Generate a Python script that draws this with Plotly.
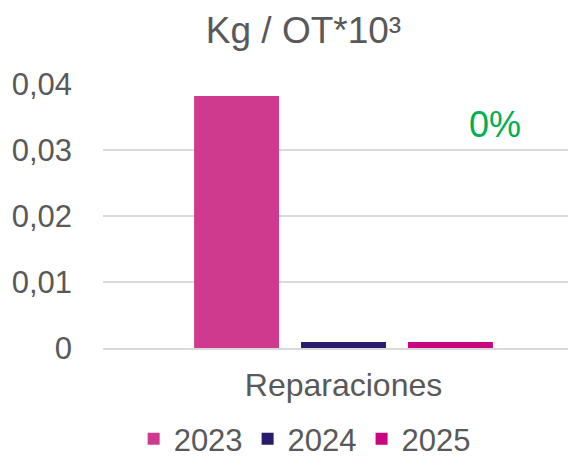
import plotly.graph_objects as go

categories = ["Reparaciones"]
years = ["2023", "2024", "2025"]
values_2023 = [0.0382]
values_2024 = [0.0009]
values_2025 = [0.0009]
colors = ["#CF3A8F", "#2A1C6D", "#C9067F"]
y_tickvals = [0, 0.01, 0.02, 0.03, 0.04]
y_ticktext = ["0", "0,01", "0,02", "0,03", "0,04"]
annotation_text = "0%"

fig = go.Figure()
for name, vals, col in zip(years, [values_2023, values_2024, values_2025], colors):
    fig.add_trace(go.Bar(x=categories, y=vals, name=name, marker=dict(color=col, line=dict(width=0))))

font_family = "Liberation Sans, Arial, sans-serif"
fig.update_layout(
    width=576, height=459,
    paper_bgcolor="white", plot_bgcolor="white",
    margin=dict(l=95, r=0, t=76, b=119, autoexpand=False),
    barmode="group", bargap=0.333, bargroupgap=0.206,
    font=dict(family=font_family, color="#595959"),
    title=dict(text="Kg / OT*10³", x=0.513, xanchor="center", y=1 - 22 / 459, yanchor="middle",
               font=dict(size=37, color="#595959", family=font_family)),
    showlegend=True,
    legend=dict(orientation="h", x=0.515, xanchor="center", xref="container", yref="container",
                y=1 - 431 / 459, yanchor="middle",
                font=dict(size=31, color="#595959"), itemwidth=30, traceorder="normal"),
    yaxis=dict(range=[0, 0.04], tickvals=y_tickvals, ticktext=y_ticktext, showgrid=True,
               gridcolor="#D9D9D9", gridwidth=1.5, zeroline=False, showline=False, automargin=False,
               tickfont=dict(size=31, color="#595959"), ticklabelstandoff=30),
    xaxis=dict(showline=True, linecolor="#D9D9D9", linewidth=1.5, automargin=False,
               tickfont=dict(size=32, color="#595959"), ticklabelstandoff=8),
    annotations=[dict(text=annotation_text, x=0.815, y=0.0339, xref="paper", yref="y", showarrow=False,
                      font=dict(size=36, color="#00B050", family=font_family), xanchor="center", yanchor="middle")],
)
fig.write_html("out.html")
